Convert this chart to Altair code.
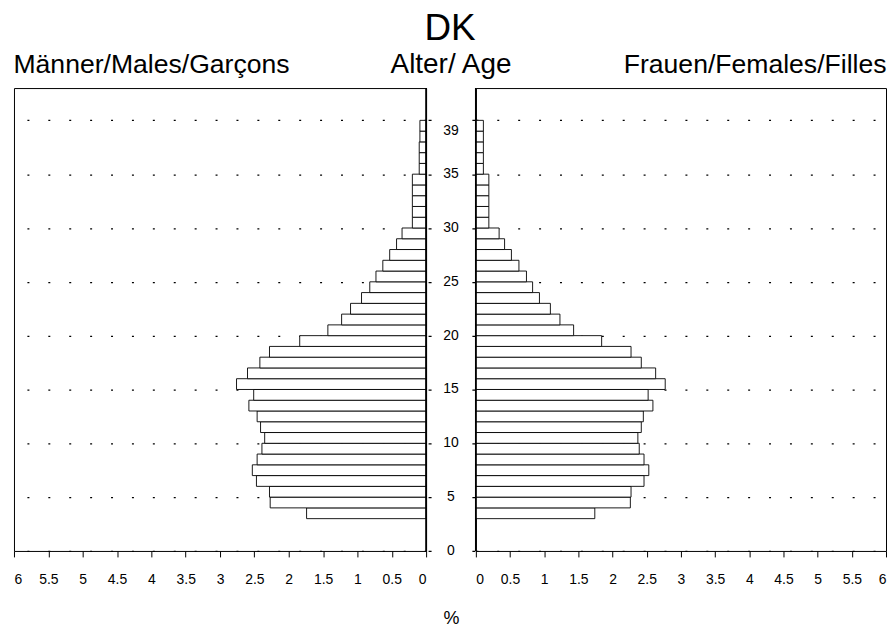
import altair as alt
import pandas as pd

FONT = "Liberation Sans"

ages = list(range(3, 40))
males = [1.74, 2.27, 2.28, 2.47, 2.53, 2.46, 2.39, 2.35, 2.41, 2.46, 2.58, 2.51,
         2.76, 2.60, 2.42, 2.28, 1.84, 1.43, 1.23, 1.10, 0.94, 0.82, 0.73, 0.63,
         0.53, 0.43, 0.35, 0.20, 0.20, 0.20, 0.20, 0.20, 0.10, 0.10, 0.10, 0.09, 0.09]
females = [1.74, 2.26, 2.27, 2.46, 2.53, 2.46, 2.39, 2.37, 2.42, 2.45, 2.59, 2.52,
           2.77, 2.63, 2.42, 2.27, 1.84, 1.43, 1.23, 1.09, 0.93, 0.83, 0.74, 0.63,
           0.52, 0.42, 0.34, 0.19, 0.19, 0.19, 0.19, 0.19, 0.11, 0.11, 0.11, 0.11, 0.11]

x_ticks = [0, 0.5, 1, 1.5, 2, 2.5, 3, 3.5, 4, 4.5, 5, 5.5, 6]
age_labels = [0, 5, 10, 15, 20, 25, 30, 35, 39]
grid_ages = [0, 5, 10, 15, 20, 25, 30, 35, 40]

title_main = "DK"
title_left = "Männer/Males/Garçons"
title_mid = "Alter/ Age"
title_right = "Frauen/Females/Filles"
x_title = "%"

PH = 465
SUB = 26.7

df_m = pd.DataFrame({"age": ages, "age_top": [a + 1 for a in ages], "pct": males,
                     "zero": [0] * len(ages)})
df_f = pd.DataFrame({"age": ages, "age_top": [a + 1 for a in ages], "pct": females,
                     "zero": [0] * len(ages)})
df_zero = pd.DataFrame({"pct": [0]})
df_lab = pd.DataFrame({"age": age_labels, "label": [str(a) for a in age_labels],
                       "pos": [0.5] * len(age_labels)})

yscale = alt.Scale(domain=[0, 43], nice=False)


def xaxis():
    return alt.Axis(values=x_ticks, format="~g", labelAngle=0, labelFontSize=14,
                    labelFont=FONT, labelColor="black", tickSize=6, tickColor="black",
                    labelPadding=16, labelOverlap=False, labelBound=False,
                    domain=False, grid=False, title=None)


def yaxis(dash, offset=0):
    return alt.Axis(values=grid_ages, labels=False, ticks=False, domain=False,
                    grid=True, gridDash=dash, gridDashOffset=offset,
                    gridColor="black", gridWidth=1.2, title=None)


def panel(df, reverse, title, width):
    xs = alt.Scale(domain=[0, 6], reverse=reverse, nice=False)
    bars = alt.Chart(df).mark_bar(fill="white", stroke="black", strokeWidth=0.9).encode(
        x=alt.X("pct:Q", scale=xs, axis=xaxis()),
        x2="zero:Q",
        y=alt.Y("age:Q", scale=yscale, axis=yaxis([2, 19])),
        y2="age_top:Q",
    )
    zero = alt.Chart(df_zero).mark_rule(color="black", strokeWidth=1.8).encode(
        x=alt.X("pct:Q", scale=xs, axis=xaxis())
    )
    return alt.layer(bars, zero).properties(width=width, height=PH, title=title)


left = panel(df_m, True, alt.Title(title_left, anchor="start", fontSize=SUB,
                                   fontWeight="normal", font=FONT, offset=9), 414)
right = panel(df_f, False, alt.Title(title_right, anchor="end", fontSize=SUB,
                                     fontWeight="normal", font=FONT, offset=9), 412)

mid = alt.Chart(df_lab).mark_text(fontSize=14, font=FONT, color="black").encode(
    x=alt.X("pos:Q", scale=alt.Scale(domain=[0, 1]),
            axis=alt.Axis(title=x_title, labels=False, ticks=False, domain=False,
                          grid=False, titleFontSize=18, titleFontWeight="normal",
                          titleFont=FONT, titlePadding=59, titleColor="black")),
    y=alt.Y("age:Q", scale=yscale, axis=yaxis([3, 41], 42)),
    text="label:N",
).properties(width=50, height=PH,
             title=alt.Title(title_mid, anchor="middle", fontSize=28,
                             fontWeight="normal", font=FONT, offset=9),
             view=alt.ViewBackground(stroke="transparent"))

chart = alt.hconcat(
    left, mid, right, spacing=0, bounds="flush",
    title=alt.Title(title_main, fontSize=37, fontWeight="normal", font=FONT,
                    anchor="middle", offset=3, color="black"),
).properties(
    padding={"left": 5, "top": 0, "right": 0, "bottom": 0},
    background="white",
).configure_view(stroke="black", strokeWidth=1)

chart.save("out.html", embed_options={"renderer": "svg", "actions": False})
